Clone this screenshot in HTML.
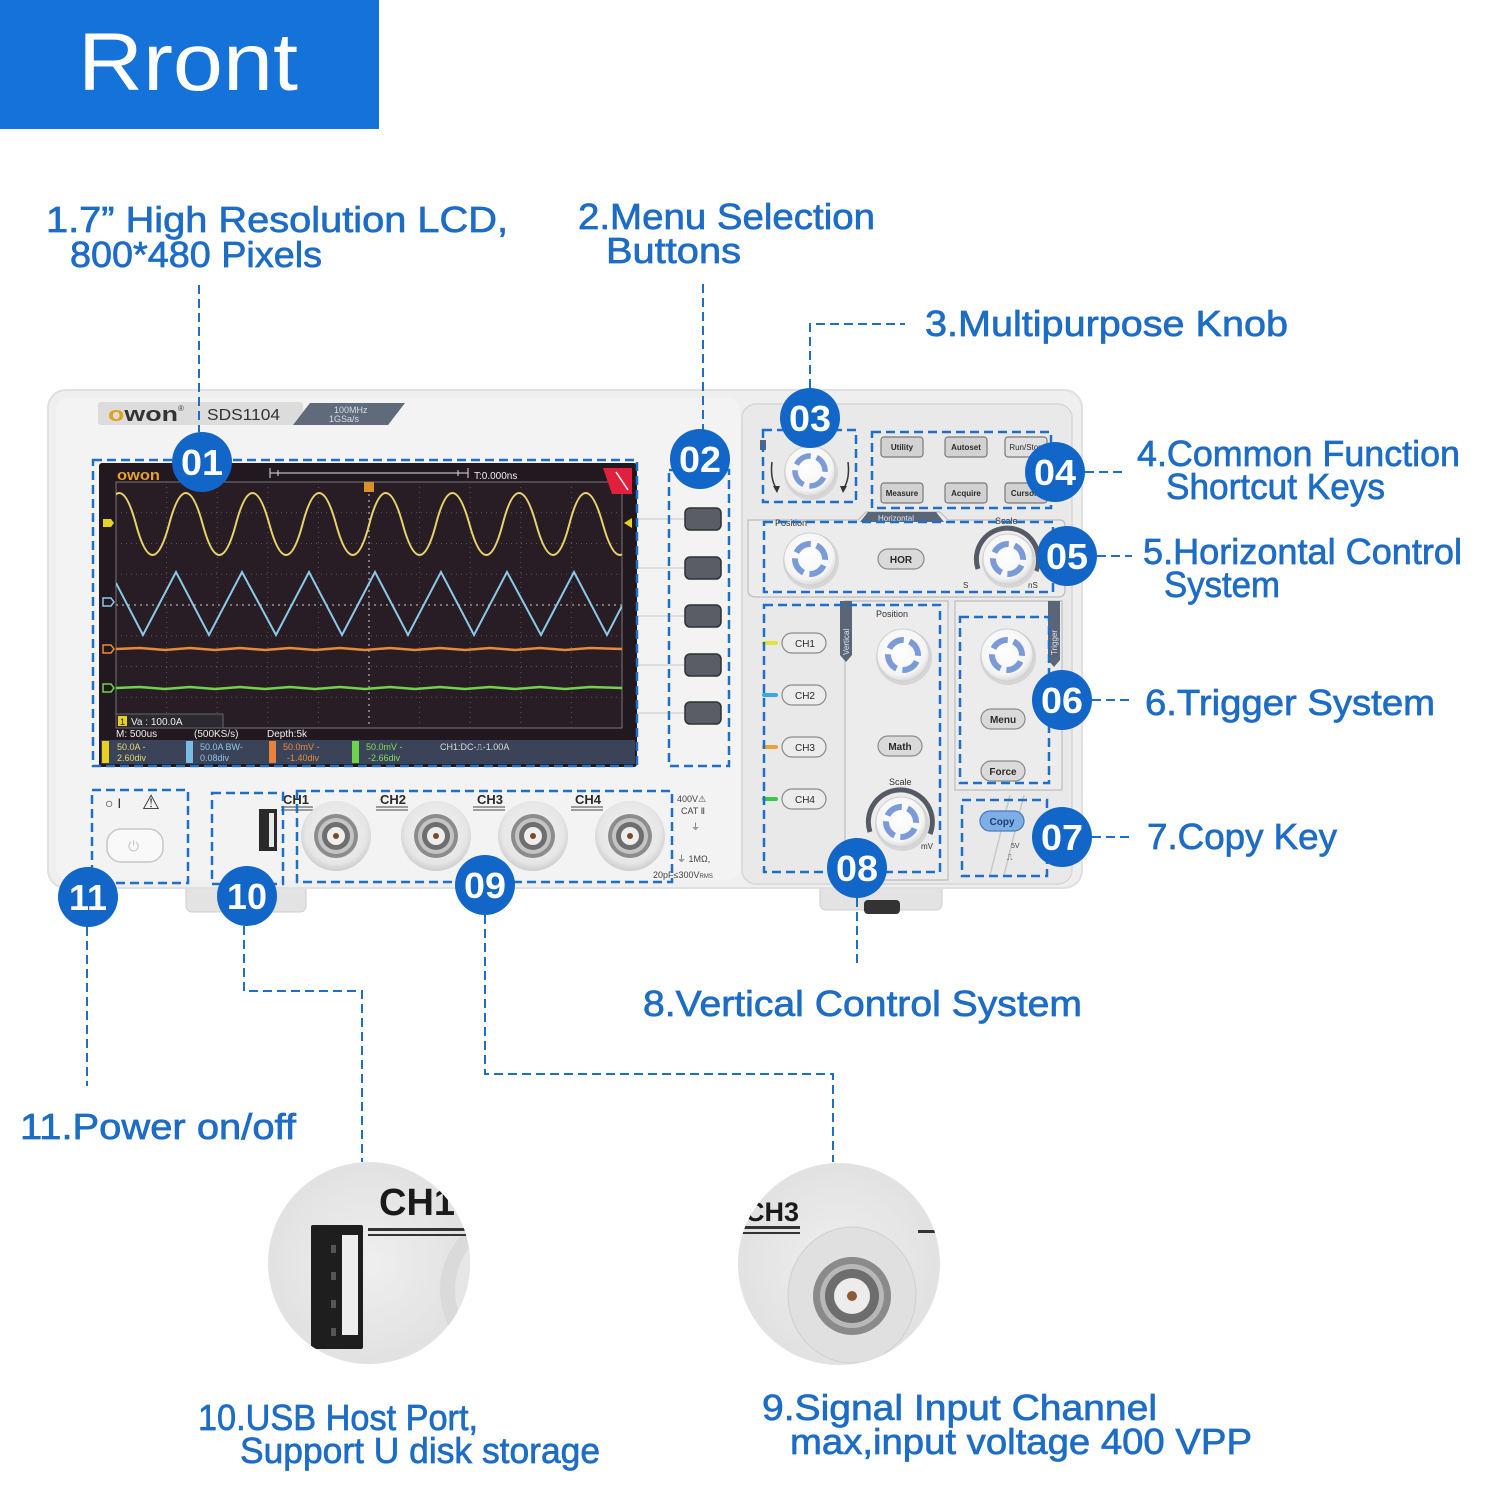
<!DOCTYPE html>
<html><head><meta charset="utf-8"><style>
html,body{margin:0;padding:0;background:#fff;}
svg{display:block;}
.lb{font-family:"Liberation Sans",sans-serif;fill:#1d6cc6;font-size:36px;stroke:#1d6cc6;stroke-width:0.7;}
.num{font-family:"Liberation Sans",sans-serif;fill:#fff;font-size:36px;font-weight:bold;}
.btn{font-family:"Liberation Sans",sans-serif;font-weight:bold;fill:#2a2a2a;}
.sm{font-family:"Liberation Sans",sans-serif;}
</style></head><body>
<svg width="1500" height="1500" viewBox="0 0 1500 1500" xmlns="http://www.w3.org/2000/svg">
<defs>
<radialGradient id="kn" cx="45%" cy="40%" r="65%"><stop offset="0" stop-color="#ffffff"/><stop offset="0.75" stop-color="#f4f4f4"/><stop offset="1" stop-color="#cfcfcf"/></radialGradient>
<radialGradient id="sock" cx="50%" cy="45%" r="55%"><stop offset="0" stop-color="#f4f4f4"/><stop offset="0.8" stop-color="#e6e6e6"/><stop offset="1" stop-color="#cdcdcd"/></radialGradient>
<radialGradient id="mag" cx="50%" cy="50%" r="55%"><stop offset="0" stop-color="#efefef"/><stop offset="1" stop-color="#e0e0e0"/></radialGradient>
<clipPath id="grid"><rect x="116" y="482" width="506" height="246"/></clipPath>
<clipPath id="c1"><circle cx="369" cy="1263" r="101"/></clipPath>
<clipPath id="c2"><circle cx="839" cy="1264" r="101"/></clipPath>
</defs>

<!-- header -->
<rect x="0" y="0" width="379" height="129" fill="#1472d8"/>
<text x="78" y="90" font-family="Liberation Sans,sans-serif" font-size="82" fill="#fff" textLength="220" lengthAdjust="spacingAndGlyphs">Rront</text>

<!-- body -->
<rect x="186" y="872" width="120" height="40" rx="6" fill="#e3e3e3" stroke="#cfcfcf"/>
<rect x="820" y="878" width="122" height="32" rx="6" fill="#e3e3e3" stroke="#cfcfcf"/>
<rect x="864" y="900" width="36" height="14" rx="4" fill="#333"/>
<rect x="48" y="390" width="1034" height="498" rx="18" fill="#efefef" stroke="#e0e0e0" stroke-width="2"/>
<rect x="56" y="398" width="684" height="482" rx="12" fill="#f3f3f3"/>
<rect x="742" y="404" width="330" height="480" rx="14" fill="#e9e9e9" stroke="#d6d6d6" stroke-width="1.5"/>

<!-- branding strip -->
<rect x="98" y="402" width="205" height="23" rx="3" fill="#dcdcdc"/>
<text x="108" y="421" font-family="Liberation Sans,sans-serif" font-size="20" font-weight="bold" fill="#333" textLength="70" lengthAdjust="spacingAndGlyphs"><tspan fill="#e0a020">o</tspan>won</text>
<text x="178" y="411" class="sm" font-size="8" fill="#444">®</text>
<text x="207" y="420" class="sm" font-size="16" fill="#333" textLength="73" lengthAdjust="spacingAndGlyphs">SDS1104</text>
<polygon points="293,425 310,403 405,403 388,425" fill="#5f6b7b"/>
<text x="334" y="413" class="sm" font-size="9" fill="#d8dde4">100MHz</text>
<text x="329" y="422" class="sm" font-size="9" fill="#d8dde4">1GSa/s</text>

<!-- screen -->
<rect x="99" y="463" width="538" height="304" rx="3" fill="#221920"/>
<rect x="116" y="482" width="506" height="246" fill="#281d24" stroke="#777" stroke-width="1"/>
<g stroke="#5b5558" stroke-width="1" stroke-dasharray="1 4">
<line x1="166.6" y1="482" x2="166.6" y2="728"/><line x1="217.2" y1="482" x2="217.2" y2="728"/><line x1="267.8" y1="482" x2="267.8" y2="728"/><line x1="318.4" y1="482" x2="318.4" y2="728"/><line x1="419.6" y1="482" x2="419.6" y2="728"/><line x1="470.2" y1="482" x2="470.2" y2="728"/><line x1="520.8" y1="482" x2="520.8" y2="728"/><line x1="571.4" y1="482" x2="571.4" y2="728"/>
<line x1="116" y1="512.75" x2="622" y2="512.75"/><line x1="116" y1="543.5" x2="622" y2="543.5"/><line x1="116" y1="574.25" x2="622" y2="574.25"/><line x1="116" y1="635.75" x2="622" y2="635.75"/><line x1="116" y1="666.5" x2="622" y2="666.5"/><line x1="116" y1="697.25" x2="622" y2="697.25"/>
</g>
<g stroke="#9a9596" stroke-width="1.5" stroke-dasharray="2 4">
<line x1="369" y1="482" x2="369" y2="728"/><line x1="116" y1="605" x2="622" y2="605"/>
</g>
<g clip-path="url(#grid)" fill="none">
<path d="M102.5,524 Q119.2,462 135.9,524 T169.2,524 T202.6,524 T235.9,524 T269.3,524 T302.6,524 T336,524 T369.3,524 T402.7,524 T436,524 T469.4,524 T502.7,524 T536.1,524 T569.4,524 T602.8,524 T636.1,524" stroke="#e8d36a" stroke-width="2"/>
<polyline points="116,583 143,635 176,572 209,635 242,572 276,635 309,572 342,635 375,572 408,635 441,572 474,635 507,572 541,635 574,572 607,635 622,606" stroke="#8cc8e8" stroke-width="2"/>
<polyline points="116,649 140,648 165,650 190,648 215,650 240,648 265,650 290,648 315,650 340,648 365,650 390,648 415,650 440,648 465,650 490,648 515,650 540,648 565,650 590,648 622,649" stroke="#e88a3a" stroke-width="2.5"/>
<polyline points="116,688 140,687 165,689 190,687 215,689 240,687 265,689 290,687 315,689 340,687 365,689 390,687 415,689 440,687 465,689 490,687 515,689 540,687 565,689 590,687 622,688" stroke="#6fd44a" stroke-width="2.5"/>
</g>
<text x="117" y="480" font-family="Liberation Sans,sans-serif" font-size="15" font-weight="bold" fill="#e8a030" textLength="43" lengthAdjust="spacingAndGlyphs">owon</text>
<g stroke="#ddd" stroke-width="1" fill="none"><path d="M270,468 V478 M270,473 H468 M468,468 V478 M278,470 V476 M458,470 V476"/></g>
<text x="474" y="479" class="sm" font-size="10" fill="#eee">T:0.000ns</text>
<polygon points="603,468 632,468 632,494 612,494" fill="#e0203c"/>
<line x1="616" y1="472" x2="628" y2="490" stroke="#fff" stroke-width="1.5"/>
<rect x="364" y="482" width="10" height="10" fill="#d9902a"/>
<polygon points="103,519 111,519 114,523 111,527 103,527" fill="#e8d020"/>
<polygon points="103,598 111,598 114,602 111,606 103,606" fill="none" stroke="#8cc8e8" stroke-width="1.5"/>
<polygon points="103,645 111,645 114,649 111,653 103,653" fill="none" stroke="#e88a3a" stroke-width="1.5"/>
<polygon points="103,684 111,684 114,688 111,692 103,692" fill="none" stroke="#6fd44a" stroke-width="1.5"/>
<polygon points="632,518 624,523 632,528" fill="#e8d020"/>
<rect x="116" y="714" width="107" height="14" fill="#2a2a30" stroke="#666" stroke-width="1"/>
<rect x="118" y="716" width="9" height="10" fill="#e8d020"/>
<text x="120" y="725" class="sm" font-size="9" fill="#222">1</text>
<text x="131" y="725" class="sm" font-size="10" fill="#eee">Va : 100.0A</text>
<text x="116" y="737" class="sm" font-size="10" fill="#eee">M: 500us</text>
<text x="194" y="737" class="sm" font-size="10" fill="#eee">(500KS/s)</text>
<text x="267" y="737" class="sm" font-size="10" fill="#eee">Depth:5k</text>
<rect x="101" y="740" width="534" height="24" fill="#3a4358"/>
<rect x="102" y="741" width="7" height="22" fill="#e8d020"/>
<rect x="186" y="741" width="7" height="22" fill="#78bce6"/>
<rect x="269" y="741" width="7" height="22" fill="#e8843a"/>
<rect x="352" y="741" width="7" height="22" fill="#6fd44a"/>
<g class="sm" font-size="9">
<text x="117" y="750" fill="#e8d86a">50.0A   -</text><text x="117" y="761" fill="#e8d86a">2.60div</text>
<text x="200" y="750" fill="#8cc8e8">50.0A   BW-</text><text x="200" y="761" fill="#8cc8e8">0.08div</text>
<text x="283" y="750" fill="#e88a3a">50.0mV -</text><text x="287" y="761" fill="#e88a3a">-1.40div</text>
<text x="366" y="750" fill="#7fe05a">50.0mV -</text><text x="368" y="761" fill="#7fe05a">-2.66div</text>
<text x="440" y="750" fill="#dcdcdc">CH1:DC-⎍-1.00A</text>
</g>

<!-- menu buttons -->
<g stroke="#c8c8c8" stroke-width="1"><line x1="637" y1="519" x2="686" y2="519"/><line x1="637" y1="568" x2="686" y2="568"/><line x1="637" y1="616" x2="686" y2="616"/><line x1="637" y1="665" x2="686" y2="665"/><line x1="637" y1="713" x2="686" y2="713"/></g>
<g fill="#5a5d63" stroke="#2e3034" stroke-width="1.5">
<rect x="685" y="508" width="36" height="22" rx="5"/><rect x="685" y="557" width="36" height="22" rx="5"/><rect x="685" y="605" width="36" height="22" rx="5"/><rect x="685" y="654" width="36" height="22" rx="5"/><rect x="685" y="702" width="36" height="22" rx="5"/>
</g>

<!-- right panel sections -->
<path d="M748,520 L858,520 L866,512 L940,512 L948,520 L1060,520 Q1065,520 1065,526 L1065,590 Q1065,597 1058,597 L756,597 Q748,597 748,590 Z" fill="#ececec" stroke="#bdbdbd" stroke-width="1.2"/>
<polygon points="860,522 868,512 936,512 944,522" fill="#5a6678"/>
<text x="878" y="521" class="sm" font-size="8" fill="#dfe4ea">Horizontal</text>
<path d="M845,601 L948,601 L948,880 L845,880 Z" fill="#ececec" stroke="#bdbdbd" stroke-width="1.2"/>
<polygon points="840,601 852,601 852,655 846,662 840,655" fill="#5a6678"/>
<text x="849" y="655" class="sm" font-size="8" fill="#dfe4ea" transform="rotate(-90 849 655)">Vertical</text>
<path d="M955,601 L1062,601 L1062,790 L955,790 Z" fill="#ececec" stroke="#bdbdbd" stroke-width="1.2"/>
<polygon points="1048,601 1060,601 1060,660 1054,667 1048,660" fill="#5a6678"/>
<text x="1057" y="655" class="sm" font-size="8" fill="#dfe4ea" transform="rotate(-90 1057 655)">Trigger</text>
<line x1="1010" y1="795" x2="990" y2="875" stroke="#c8c8c8" stroke-width="1.5"/>
<line x1="1024" y1="795" x2="1004" y2="875" stroke="#c8c8c8" stroke-width="1.5"/>
<text x="1011" y="848" class="sm" font-size="7" fill="#444">5V</text>
<text x="1007" y="860" class="sm" font-size="8" fill="#444">⎍</text>

<!-- top function buttons -->
<g fill="#d2d2d2" stroke="#7a7a7a" stroke-width="1.2">
<rect x="881" y="437" width="42" height="20" rx="3"/><rect x="945" y="437" width="42" height="20" rx="3"/><rect x="1005" y="437" width="42" height="20" rx="3" fill="#e0e0e0"/>
<rect x="881" y="483" width="42" height="20" rx="3"/><rect x="945" y="483" width="42" height="20" rx="3"/><rect x="1005" y="483" width="42" height="20" rx="3"/>
</g>
<g class="btn" font-size="8" text-anchor="middle">
<text x="902" y="450">Utility</text><text x="966" y="450">Autoset</text><text x="1026" y="450" font-weight="normal">Run/Stop</text>
<text x="902" y="496">Measure</text><text x="966" y="496">Acquire</text><text x="1024" y="496">Cursor</text>
</g>

<!-- knobs -->
<g>
<g transform="translate(810,471)"><circle r="27" fill="#d6d6d6" cx="1" cy="2"/><circle r="25" fill="url(#kn)" stroke="#cfcfcf"/><circle r="15" fill="none" stroke="#7b9ad8" stroke-width="5.5" stroke-dasharray="17.6 6" transform="rotate(25)"/></g>
<path d="M772,462 Q770,478 776,488" fill="none" stroke="#333" stroke-width="1.5"/><polygon points="773,486 780,486 777,493" fill="#333"/>
<path d="M848,462 Q850,478 844,488" fill="none" stroke="#333" stroke-width="1.5"/><polygon points="840,486 847,486 843,493" fill="#333"/>
<rect x="760" y="440" width="6" height="10" fill="#5a6678"/>
<g transform="translate(810,559)"><circle r="28" fill="#d6d6d6" cx="1" cy="2"/><circle r="26" fill="url(#kn)" stroke="#cfcfcf"/><circle r="15" fill="none" stroke="#7b9ad8" stroke-width="6" stroke-dasharray="17.6 6" transform="rotate(25)"/></g>
<g transform="translate(1008,559)"><path d="M-30,10 A31,31 0 1 1 28,12" fill="none" stroke="#555b64" stroke-width="5"/><circle r="27" fill="#d6d6d6" cx="1" cy="2"/><circle r="25" fill="url(#kn)" stroke="#cfcfcf"/><circle r="15" fill="none" stroke="#7b9ad8" stroke-width="6" stroke-dasharray="17.6 6" transform="rotate(25)"/></g>
<g transform="translate(903,655)"><circle r="28" fill="#d6d6d6" cx="1" cy="2"/><circle r="26" fill="url(#kn)" stroke="#cfcfcf"/><circle r="15" fill="none" stroke="#7b9ad8" stroke-width="6" stroke-dasharray="17.6 6" transform="rotate(25)"/></g>
<g transform="translate(1007,655)"><circle r="28" fill="#d6d6d6" cx="1" cy="2"/><circle r="26" fill="url(#kn)" stroke="#cfcfcf"/><circle r="15" fill="none" stroke="#7b9ad8" stroke-width="6" stroke-dasharray="17.6 6" transform="rotate(25)"/></g>
<g transform="translate(901,822)"><path d="M-31,10 A32,32 0 1 1 29,12" fill="none" stroke="#555b64" stroke-width="5"/><circle r="27" fill="#d6d6d6" cx="1" cy="2"/><circle r="25" fill="url(#kn)" stroke="#cfcfcf"/><circle r="15" fill="none" stroke="#7b9ad8" stroke-width="6" stroke-dasharray="17.6 6" transform="rotate(25)"/></g>
</g>
<g class="sm" font-size="9" fill="#333">
<text x="775" y="526">Position</text><text x="995" y="524">Scale</text>
<text x="876" y="617">Position</text><text x="889" y="785">Scale</text>
<text x="963" y="588" font-size="8">S</text><text x="1028" y="588" font-size="8">nS</text>
<text x="921" y="849" font-size="8">mV</text>
<text x="800" y="428" font-size="9">M</text>
</g>

<!-- pill buttons -->
<g fill="#ececec" stroke="#8a8a8a" stroke-width="1.2">
<rect x="878" y="549" width="46" height="20" rx="10" fill="#dadada"/>
<rect x="782" y="633" width="44" height="20" rx="10"/><rect x="782" y="685" width="44" height="20" rx="10"/><rect x="782" y="737" width="44" height="20" rx="10"/><rect x="782" y="789" width="44" height="20" rx="10"/>
<rect x="878" y="736" width="44" height="20" rx="10" fill="#dadada"/>
<rect x="981" y="709" width="44" height="20" rx="10" fill="#dadada"/>
<rect x="981" y="761" width="44" height="20" rx="10" fill="#dadada"/>
<rect x="980" y="811" width="44" height="20" rx="10" fill="#7eaee8" stroke="#4a78b8"/>
</g>
<g class="btn" font-size="10" text-anchor="middle">
<text x="901" y="563">HOR</text>
<text x="805" y="647" font-weight="normal">CH1</text><text x="805" y="699" font-weight="normal">CH2</text><text x="805" y="751" font-weight="normal">CH3</text><text x="805" y="803" font-weight="normal">CH4</text>
<text x="900" y="750">Math</text><text x="1003" y="723">Menu</text><text x="1003" y="775">Force</text><text x="1002" y="825" fill="#1e3c70">Copy</text>
</g>
<g stroke-width="4" stroke-linecap="round"><line x1="764" y1="643" x2="776" y2="643" stroke="#e8e03a"/><line x1="764" y1="695" x2="776" y2="695" stroke="#3aa8e8"/><line x1="764" y1="747" x2="776" y2="747" stroke="#f0a03a"/><line x1="764" y1="799" x2="776" y2="799" stroke="#3ac84a"/></g>

<!-- bottom front -->
<text x="105" y="808" class="sm" font-size="14" fill="#333">○ I</text>
<text x="142" y="809" class="sm" font-size="20" fill="#333">⚠</text>
<rect x="107" y="829" width="56" height="33" rx="14" fill="#f9f9f9" stroke="#c6c6c6" stroke-width="1.5"/>
<text x="128" y="851" class="sm" font-size="14" fill="#c4c4c4">⏻</text>
<rect x="259" y="809" width="18" height="42" fill="#2a2a2a"/>
<rect x="269" y="813" width="5" height="34" fill="#e8e8e8"/>
<g class="btn" font-size="13">
<text x="283" y="804">CH1</text><text x="380" y="804">CH2</text><text x="477" y="804">CH3</text><text x="575" y="804">CH4</text>
</g>
<g stroke="#444" stroke-width="1"><path d="M281,807 H313 M281,810 H313 M376,807 H408 M376,810 H408 M473,807 H505 M473,810 H505 M571,807 H603 M571,810 H603"/></g>
<g>
<g transform="translate(336,836)"><circle r="35" fill="url(#sock)"/><circle r="22" fill="#8c8c8c"/><circle r="18" fill="#c4c4c4"/><circle r="14" fill="#6e6e6e"/><circle r="9" fill="#eee"/><circle r="3" fill="#7a4a28"/></g>
<g transform="translate(436,836)"><circle r="35" fill="url(#sock)"/><circle r="22" fill="#8c8c8c"/><circle r="18" fill="#c4c4c4"/><circle r="14" fill="#6e6e6e"/><circle r="9" fill="#eee"/><circle r="3" fill="#7a4a28"/></g>
<g transform="translate(533,836)"><circle r="35" fill="url(#sock)"/><circle r="22" fill="#8c8c8c"/><circle r="18" fill="#c4c4c4"/><circle r="14" fill="#6e6e6e"/><circle r="9" fill="#eee"/><circle r="3" fill="#7a4a28"/></g>
<g transform="translate(630,836)"><circle r="35" fill="url(#sock)"/><circle r="22" fill="#8c8c8c"/><circle r="18" fill="#c4c4c4"/><circle r="14" fill="#6e6e6e"/><circle r="9" fill="#eee"/><circle r="3" fill="#7a4a28"/></g>
</g>
<g class="sm" font-size="9" fill="#444">
<text x="677" y="802">400V⚠</text><text x="681" y="814">CAT Ⅱ</text><text x="691" y="830">⏚</text>
<text x="677" y="862">⏚ 1MΩ,</text><text x="653" y="878">20pF≤300V<tspan font-size="6">RMS</tspan></text>
</g>

<!-- dashed boxes -->
<g fill="none" stroke="#1f6fc8" stroke-width="2.5" stroke-dasharray="9 5">
<rect x="93" y="460" width="544" height="306"/>
<rect x="669" y="470" width="60" height="296"/>
<rect x="763" y="430" width="93" height="72"/>
<rect x="872" y="432" width="179" height="76"/>
<rect x="764" y="522" width="289" height="70"/>
<rect x="764" y="605" width="176" height="267"/>
<rect x="960" y="617" width="89" height="166"/>
<rect x="962" y="800" width="85" height="76"/>
<rect x="92" y="790" width="96" height="93"/>
<rect x="212" y="793" width="71" height="91"/>
<rect x="297" y="791" width="375" height="91"/>
</g>

<!-- connectors -->
<g fill="none" stroke="#1f6fc8" stroke-width="2" stroke-dasharray="9 5">
<path d="M199,285 V432"/>
<path d="M703,284 V430"/>
<path d="M810,388 V324 H905"/>
<path d="M1085,472 H1125"/>
<path d="M1097,556 H1132"/>
<path d="M1092,700 H1133"/>
<path d="M1092,837 H1133"/>
<path d="M857,898 V968"/>
<path d="M485,915 V1074 H833 V1162"/>
<path d="M244,926 V991 H362 V1162"/>
<path d="M87,927 V1086"/>
</g>

<!-- number circles -->
<g fill="#1166c8">
<circle cx="202" cy="462" r="30"/><circle cx="700" cy="459" r="30"/><circle cx="810" cy="418" r="30"/><circle cx="1055" cy="472" r="30"/><circle cx="1067" cy="556" r="30"/><circle cx="1062" cy="700" r="30"/><circle cx="1062" cy="837" r="30"/><circle cx="857" cy="868" r="30"/><circle cx="485" cy="885" r="30"/><circle cx="247" cy="896" r="30"/><circle cx="88" cy="897" r="30"/>
</g>
<g class="num" text-anchor="middle">
<text x="202" y="475" textLength="42" lengthAdjust="spacingAndGlyphs">01</text>
<text x="700" y="472" textLength="42" lengthAdjust="spacingAndGlyphs">02</text>
<text x="810" y="431" textLength="42" lengthAdjust="spacingAndGlyphs">03</text>
<text x="1055" y="485" textLength="42" lengthAdjust="spacingAndGlyphs">04</text>
<text x="1067" y="569" textLength="42" lengthAdjust="spacingAndGlyphs">05</text>
<text x="1062" y="713" textLength="42" lengthAdjust="spacingAndGlyphs">06</text>
<text x="1062" y="850" textLength="42" lengthAdjust="spacingAndGlyphs">07</text>
<text x="857" y="881" textLength="42" lengthAdjust="spacingAndGlyphs">08</text>
<text x="485" y="898" textLength="42" lengthAdjust="spacingAndGlyphs">09</text>
<text x="247" y="909" textLength="40" lengthAdjust="spacingAndGlyphs">10</text>
<text x="88" y="910" textLength="38" lengthAdjust="spacingAndGlyphs">11</text>
</g>

<!-- labels -->
<g class="lb">
<text x="46" y="232" textLength="462" lengthAdjust="spacingAndGlyphs">1.7”   High Resolution LCD,</text>
<text x="70" y="267" textLength="252" lengthAdjust="spacingAndGlyphs">800*480 Pixels</text>
<text x="578" y="229" textLength="297" lengthAdjust="spacingAndGlyphs">2.Menu Selection</text>
<text x="606" y="263" textLength="135" lengthAdjust="spacingAndGlyphs">Buttons</text>
<text x="925" y="336" textLength="363" lengthAdjust="spacingAndGlyphs">3.Multipurpose Knob</text>
<text x="1137" y="466" textLength="323" lengthAdjust="spacingAndGlyphs">4.Common Function</text>
<text x="1166" y="499" textLength="219" lengthAdjust="spacingAndGlyphs">Shortcut Keys</text>
<text x="1143" y="564" textLength="319" lengthAdjust="spacingAndGlyphs">5.Horizontal Control</text>
<text x="1164" y="597" textLength="116" lengthAdjust="spacingAndGlyphs">System</text>
<text x="1145" y="715" textLength="290" lengthAdjust="spacingAndGlyphs">6.Trigger System</text>
<text x="1147" y="849" textLength="190" lengthAdjust="spacingAndGlyphs">7.Copy Key</text>
<text x="643" y="1016" textLength="439" lengthAdjust="spacingAndGlyphs">8.Vertical Control System</text>
<text x="20" y="1139" textLength="276" lengthAdjust="spacingAndGlyphs">11.Power on/off</text>
<text x="198" y="1430" textLength="280" lengthAdjust="spacingAndGlyphs">10.USB Host Port,</text>
<text x="240" y="1463" textLength="360" lengthAdjust="spacingAndGlyphs">Support U disk storage</text>
<text x="762" y="1420" textLength="395" lengthAdjust="spacingAndGlyphs">9.Signal Input Channel</text>
<text x="790" y="1454" textLength="462" lengthAdjust="spacingAndGlyphs">max,input voltage 400 VPP</text>
</g>

<!-- magnified circles -->
<circle cx="369" cy="1263" r="101" fill="url(#mag)"/>
<g clip-path="url(#c1)">
<circle cx="520" cy="1290" r="80" fill="#dadada"/>
<circle cx="525" cy="1290" r="70" fill="#e6e6e6"/>
<text x="379" y="1215" font-family="Liberation Sans,sans-serif" font-weight="bold" font-size="38" fill="#1a1a1a">CH1</text>
<rect x="368" y="1228" width="110" height="3" fill="#333"/>
<rect x="368" y="1234" width="110" height="2" fill="#333"/>
<rect x="311" y="1225" width="52" height="124" rx="2" fill="#1e1e1e"/>
<rect x="342" y="1235" width="16" height="100" fill="#ededed"/>
<g fill="#555"><rect x="331" y="1245" width="5" height="8"/><rect x="331" y="1272" width="5" height="8"/><rect x="331" y="1300" width="5" height="8"/><rect x="331" y="1328" width="5" height="8"/></g>
</g>
<circle cx="839" cy="1264" r="101" fill="url(#mag)"/>
<g clip-path="url(#c2)">
<text x="745" y="1221" font-family="Liberation Sans,sans-serif" font-weight="bold" font-size="27" fill="#1a1a1a">CH3</text>
<rect x="740" y="1226" width="60" height="3" fill="#333"/>
<rect x="740" y="1232" width="60" height="2" fill="#333"/>
<rect x="918" y="1230" width="30" height="3" fill="#333"/>
<ellipse cx="852" cy="1295" rx="64" ry="68" fill="#e0e0e0" stroke="#cfcfcf"/>
<circle cx="852" cy="1296" r="39" fill="#8a8a8a"/>
<circle cx="852" cy="1296" r="32" fill="#b8b8b8"/>
<circle cx="852" cy="1296" r="27" fill="#6d6d6d"/>
<circle cx="852" cy="1296" r="18" fill="#ececec"/>
<circle cx="852" cy="1296" r="5" fill="#8a5a32"/>
</g>
</svg>
</body></html>
